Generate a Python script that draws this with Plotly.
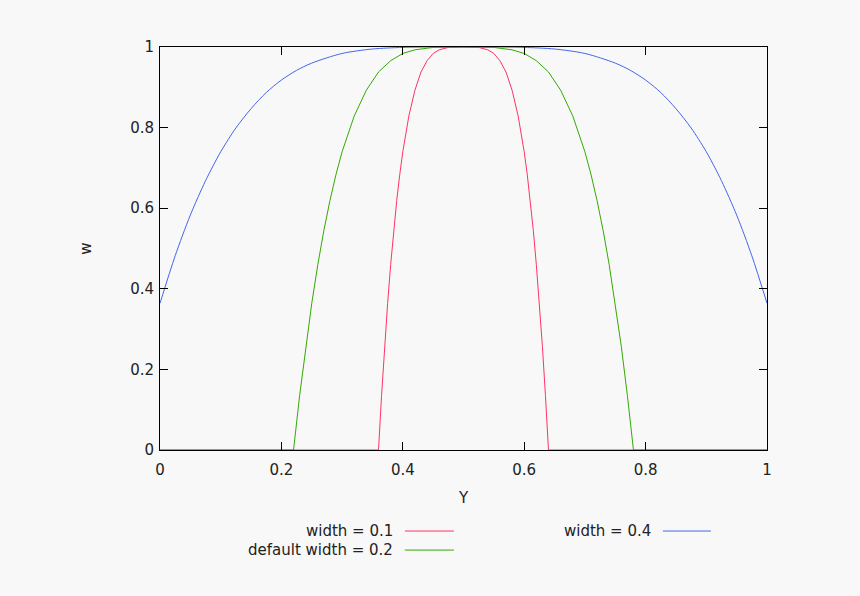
import plotly.graph_objects as go

# values
y_red = [0.0, 0.36, 0.365, 0.37, 0.375, 0.38, 0.385, 0.39, 0.395, 0.40, 0.41, 0.42, 0.43, 0.44, 0.45, 0.46, 0.475, 0.5,
         0.525, 0.54, 0.55, 0.56, 0.57, 0.58, 0.59, 0.60, 0.605, 0.61, 0.615, 0.62, 0.625, 0.63, 0.635, 0.64, 1.0]
w_red = [0.0, 0.0, 0.135, 0.257, 0.364, 0.460, 0.545, 0.619, 0.684, 0.740, 0.829, 0.893, 0.938, 0.966, 0.984, 0.993, 0.999, 1.0,
         0.999, 0.993, 0.984, 0.966, 0.938, 0.893, 0.829, 0.740, 0.684, 0.619, 0.545, 0.460, 0.364, 0.257, 0.135, 0.0, 0.0]

y_green = [0.0, 0.22, 0.23, 0.24, 0.25, 0.26, 0.27, 0.28, 0.29, 0.30, 0.32, 0.34, 0.36, 0.38, 0.40, 0.42, 0.45, 0.5,
           0.55, 0.58, 0.60, 0.62, 0.64, 0.66, 0.68, 0.70, 0.71, 0.72, 0.73, 0.74, 0.75, 0.76, 0.77, 0.78, 1.0]
w_green = [0.0, 0.0, 0.135, 0.257, 0.364, 0.460, 0.545, 0.619, 0.684, 0.740, 0.829, 0.893, 0.938, 0.966, 0.984, 0.993, 0.999, 1.0,
           0.999, 0.993, 0.984, 0.966, 0.938, 0.893, 0.829, 0.740, 0.684, 0.619, 0.545, 0.460, 0.364, 0.257, 0.135, 0.0, 0.0]

y_blue = [0.0, 0.025, 0.05, 0.075, 0.1, 0.125, 0.15, 0.175, 0.2, 0.225, 0.25, 0.3, 0.35, 0.4, 0.45, 0.5,
          0.55, 0.6, 0.65, 0.7, 0.75, 0.775, 0.8, 0.825, 0.85, 0.875, 0.9, 0.925, 0.95, 0.975, 1.0]
w_blue = [0.364, 0.482, 0.583, 0.668, 0.740, 0.799, 0.847, 0.887, 0.918, 0.942, 0.960, 0.984, 0.995, 0.999, 1.0, 1.0,
          1.0, 0.999, 0.995, 0.984, 0.960, 0.942, 0.918, 0.887, 0.847, 0.799, 0.740, 0.668, 0.583, 0.482, 0.364]

names = ['width = 0.1', 'default width = 0.2', 'width = 0.4']
colors = ['#ff3366', '#33aa00', '#4466ee']
shapes = ['linear', 'linear', 'spline']

font = 'DejaVu Sans'
txt = '#222222'

fig = go.Figure()
for xs, ws, c, n, s in zip([y_red, y_green, y_blue], [w_red, w_green, w_blue], colors, names, shapes):
    fig.add_trace(go.Scatter(x=xs, y=ws, mode='lines', name=n, showlegend=False,
                             line=dict(color=c, width=1, shape=s, smoothing=0.8)))

# gnuplot style key below the plot: text on the left, sample line on the right
key = [
    (names[0], colors[0], 0.387, 0.4034, 0.4842, -0.2011),
    (names[1], colors[1], 0.387, 0.4034, 0.4842, -0.2483),
    (names[2], colors[2], 0.812, 0.8285, 0.9076, -0.2011),
]
for text, c, tx, x0, x1, yy in key:
    fig.add_annotation(x=tx, y=yy, xref='paper', yref='paper', text=text,
                       showarrow=False, xanchor='right', yanchor='middle',
                       font=dict(family=font, size=15, color=txt))
    fig.add_shape(type='line', xref='paper', yref='paper', x0=x0, x1=x1, y0=yy, y1=yy,
                  line=dict(color=c, width=1))

ticks = [0, 0.2, 0.4, 0.6, 0.8, 1]
labels = ['0', '0.2', '0.4', '0.6', '0.8', '1']

axis = dict(showgrid=False, zeroline=False, showline=True, linecolor='black', linewidth=1,
            mirror='ticks', ticks='inside', ticklen=8, tickcolor='black',
            range=[0, 1], tickvals=ticks, ticktext=labels,
            tickfont=dict(family=font, size=15, color=txt))

fig.update_layout(
    width=860, height=596,
    margin=dict(l=160, r=93, t=47, b=146),
    paper_bgcolor='#f8f8f8', plot_bgcolor='#f8f8f8',
    xaxis=dict(axis, ticklabelstandoff=6,
               title=dict(text='Y', font=dict(family=font, size=15, color=txt), standoff=14)),
    yaxis=dict(axis, ticklabelstandoff=2,
               title=dict(text='w', font=dict(family=font, size=15, color=txt), standoff=34)),
)

# drop the page's default body margin so the figure sits at the window corner
fig.write_html('out.html', config={'displayModeBar': False},
               post_script="document.body.style.margin='0';document.body.style.background='#f8f8f8';")
